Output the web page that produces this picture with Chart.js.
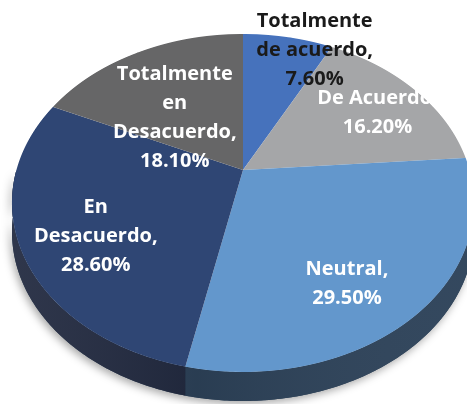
<!DOCTYPE html>
<html>
<head>
<meta charset="utf-8">
<script src="https://cdn.jsdelivr.net/npm/chart.js@4"></script>
<style>
  html, body { margin: 0; padding: 0; background: #fff; }
  canvas { display: block; }
</style>
</head>
<body>
<canvas id="myChart" width="467" height="404"></canvas>
<script>
// categorias (cada una partida en lineas) y porcentajes
var categories = [
  ['Totalmente', 'de acuerdo'],
  ['De Acuerdo'],
  ['Neutral'],
  ['En', 'Desacuerdo'],
  ['Totalmente', 'en', 'Desacuerdo']
];
var percents = [7.6, 16.2, 29.5, 28.6, 18.1];

// colores de la cara superior y del costado
var topColors = ['#4672bc', '#a5a6a8', '#6397cc', '#2f4674', '#666667'];
var sideColors = ['#2c4a80', '#6e6e70', '#2d4259', '#222a40', '#444444'];
var textColors = ['#1a1a1a', '#ffffff', '#ffffff', '#ffffff', '#ffffff'];

// posicion de etiquetas: fraccion del radio y ajuste en px
var labelRadius = [0.937, 0.74, 0.74, 0.74, 0.47];
var labelNudge = [[29, 6], [5, 4], [-20, 12], [13, 9], [-15, 8]];

// perspectiva del pastel inclinado (~44 grados)
var CX = 243, CY = 170, DEPTH = 29, W = 467, H = 404;
var F = 808.6, COS_T = 0.7175, SIN_T = 0.6966, DIST = 3.569;

// punto del disco (u, v en radios) a pantalla
function project(u, v) {
  var z = DIST - v * SIN_T;
  return [CX + F * u / z, CY + F * COS_T * v / z];
}

function sidePath(ctx, s, e) {
  var n = Math.max(2, Math.ceil((e - s) / 0.01));
  var k, t, p;
  ctx.beginPath();
  for (k = 0; k <= n; k++) {
    t = s + (e - s) * k / n;
    p = project(Math.cos(t), Math.sin(t));
    if (k === 0) ctx.moveTo(p[0], p[1]); else ctx.lineTo(p[0], p[1]);
  }
  for (k = n; k >= 0; k--) {
    t = s + (e - s) * k / n;
    p = project(Math.cos(t), Math.sin(t));
    ctx.lineTo(p[0], p[1] + DEPTH);
  }
  ctx.closePath();
}

var tiltPlugin = {
  id: 'tilt',
  beforeDatasetsDraw: function(chart) {
    var ctx = chart.ctx;
    var arcs = chart.getDatasetMeta(0).data;
    var a0 = arcs[0];
    var R = a0.outerRadius;

    // sombra bajo el costado
    ctx.save();
    ctx.shadowColor = 'rgba(0,0,0,0.35)';
    ctx.shadowBlur = 8;
    ctx.shadowOffsetX = -2;
    ctx.shadowOffsetY = 3;
    sidePath(ctx, 0, Math.PI);
    ctx.fillStyle = '#2d4259';
    ctx.fill();
    ctx.restore();

    // costado de cada porcion (solo la mitad de abajo se ve)
    arcs.forEach(function(a, i) {
      var s = Math.max(a.startAngle, 0);
      var e = Math.min(a.endAngle, Math.PI);
      if (e <= s) return;
      sidePath(ctx, s, e);
      ctx.fillStyle = sideColors[i];
      ctx.fill();
    });

    // sombreado del costado
    var g = ctx.createLinearGradient(CX - 231, 0, CX + 231, 0);
    g.addColorStop(0, 'rgba(255,255,255,0.06)');
    g.addColorStop(0.4, 'rgba(0,0,0,0.08)');
    g.addColorStop(1, 'rgba(255,255,255,0.03)');
    sidePath(ctx, 0, Math.PI);
    ctx.fillStyle = g;
    ctx.fill();

    // cara superior: fila por fila con la escala de la perspectiva
    var y0 = Math.floor(project(0, -1)[1]) - 1;
    var y1 = Math.ceil(project(0, 1)[1]) + 1;
    for (var y = y0; y < y1; y++) {
      var Yc = y + 0.5 - CY;
      var vc = Yc * DIST / (F * COS_T + Yc * SIN_T);
      var z = DIST - vc * SIN_T;
      var kx = F / z;
      var ky = F * COS_T * DIST / (z * z);
      ctx.save();
      ctx.beginPath();
      ctx.rect(0, y, W, 1);
      ctx.clip();
      ctx.translate(CX, CY + Yc);
      ctx.scale(kx / R, ky / R);
      ctx.translate(-a0.x, -(a0.y + vc * R));
      arcs.forEach(function(a) { a.draw(ctx); });
      ctx.restore();
    }
    return false;
  },
  afterDraw: function(chart) {
    var ctx = chart.ctx;
    var arcs = chart.getDatasetMeta(0).data;

    // etiquetas
    ctx.save();
    ctx.font = 'bold 20px "Open Sans"';
    ctx.textAlign = 'center';
    ctx.textBaseline = 'middle';
    arcs.forEach(function(a, i) {
      var mid = (a.startAngle + a.endAngle) / 2;
      var p = project(Math.cos(mid) * labelRadius[i], Math.sin(mid) * labelRadius[i]);
      var lines = categories[i].slice();
      lines[lines.length - 1] += ',';
      lines.push(percents[i].toFixed(2) + '%');
      var lh = 29;
      var x = p[0] + labelNudge[i][0];
      var yy = p[1] + labelNudge[i][1] - (lines.length - 1) * lh / 2;
      ctx.fillStyle = textColors[i];
      lines.forEach(function(t, k) {
        ctx.fillText(t, x, yy + k * lh);
      });
    });
    ctx.restore();
  }
};

var ctx = document.getElementById('myChart').getContext('2d');
var myChart = new Chart(ctx, {
  type: 'pie',
  data: {
    labels: categories,
    datasets: [{
      data: percents,
      backgroundColor: topColors,
      borderWidth: 0
    }]
  },
  options: {
    responsive: false,
    animation: false,
    events: [],
    plugins: {
      legend: { display: false },
      tooltip: { enabled: false }
    }
  },
  plugins: [tiltPlugin]
});
</script>
</body>
</html>
